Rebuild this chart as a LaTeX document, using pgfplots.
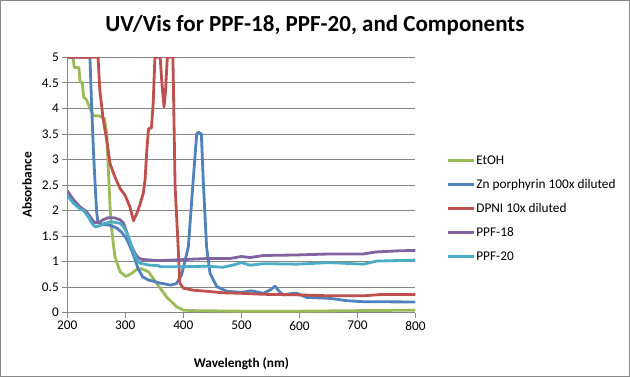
\documentclass[border=0pt]{standalone}
\usepackage{pgfplots}
\pgfplotsset{compat=1.18}
\usepackage{fontspec}
\setmainfont{Carlito}
\definecolor{cEtOH}{HTML}{9BBB59}
\definecolor{cZn}{HTML}{4F81BD}
\definecolor{cDPNI}{HTML}{C0504D}
\definecolor{cP18}{HTML}{8064A2}
\definecolor{cP20}{HTML}{4BACC6}
\definecolor{gridc}{HTML}{868686}
\begin{document}
\begin{tikzpicture}[x=1pt,y=1pt]
\begin{axis}[
  at={(67.3pt,64.3pt)}, anchor=south west,
  scale only axis, width=348.2pt, height=255.4pt,
  xmin=200, xmax=800, ymin=0, ymax=5,
  xtick={200,300,...,800}, ytick={0,0.5,...,5},
  axis x line*=bottom, axis y line*=left,
  axis line style={gridc, line width=0.8pt},
  ymajorgrids, grid style={gridc, line width=0.8pt},
  tick align=outside, major tick length=5pt,
  tick style={gridc, line width=0.8pt},
  /pgf/number format/assume math mode=true,
  ticklabel style={font=\fontsize{13.3}{16}\selectfont},
  yticklabel style={/pgf/number format/fixed},
  xlabel={Wavelength (nm)}, ylabel={Absorbance},
  label style={font=\bfseries\fontsize{13.3}{16}\selectfont},
  xlabel style={at={(axis description cs:0.5,-0.2)}, anchor=center},
  ylabel style={at={(axis description cs:-0.1157,0.5)}, anchor=center},
  legend style={at={(axis description cs:1.08,0.407)}, anchor=west, draw=none, fill=none,
    font=\fontsize{13.3}{16}\selectfont, row sep=9.5pt,
    nodes={inner sep=1pt, text height=9.5pt, text depth=3pt}},
  legend cell align=left,
  legend image code/.code={\draw[#1] (0pt,0pt) -- (26pt,0pt);},
  every axis plot/.append style={line width=2.8pt, line join=round},
]
\addplot[cEtOH] coordinates {
(200,5) (210,5) (212,4.8) (220,4.8) (222,4.52) (226,4.5) (228,4.22) (233,4.17) (239,4.0)
(245,3.86) (256,3.85) (264,3.8) (268,3.5) (270,2.95) (272,2.5) (274,2.0) (276.5,1.62)
(282,1.10) (291,0.80) (301,0.71) (311,0.77) (320,0.85) (328,0.86) (340,0.80) (354,0.575)
(371,0.31) (388,0.12) (400,0.05) (420,0.04) (500,0.03) (600,0.03) (700,0.04) (800,0.05)};
\addlegendentry{EtOH}
\addplot[cZn] coordinates {
(200,5) (239,5) (242,4.03) (245,3.18) (248,2.5) (250.7,1.95) (253,1.76) (262,1.73) (274,1.71)
(285,1.66) (294,1.57) (302,1.45) (308,1.30) (315,1.10) (322,0.86) (330,0.70) (340,0.64)
(360,0.58) (378,0.54) (388,0.57) (397,0.74) (408.6,1.29) (417,2.6) (423,3.5) (426,3.53)
(431,3.5) (434.5,2.53) (440,1.29) (446,0.77) (457.6,0.51) (474.8,0.42) (498,0.40) (509,0.41)
(517,0.43) (538,0.38) (550,0.45) (558,0.52) (565,0.42) (572,0.35) (590,0.38) (596,0.38)
(612,0.30) (653,0.28) (682,0.235) (710,0.215) (800,0.21)};
\addlegendentry{Zn porphyrin 100x diluted}
\addplot[cDPNI] coordinates {
(200,5) (253,5) (256,4.36) (262,3.77) (268,3.38) (273.6,2.92) (282,2.66) (291,2.43)
(299.5,2.30) (308,2.07) (314,1.80) (320,1.95) (325,2.11) (331,2.34) (334,2.6) (337,3.18)
(340,3.60) (345,3.62) (348,4.1) (351,5) (360,5) (363,4.5) (366.7,4.03) (369,4.3) (372.4,5)
(382,5) (385.7,2.5) (391,1.29) (394,0.575) (400,0.48) (417,0.44) (440,0.42) (468,0.39)
(498,0.38) (538,0.36) (595,0.35) (653,0.33) (710,0.33) (739,0.355) (800,0.355)};
\addlegendentry{DPNI 10x diluted}
\addplot[cP18] coordinates {
(200,2.39) (210,2.22) (222,2.07) (233,1.98) (243,1.82) (248,1.76) (255,1.77) (262,1.82)
(270,1.86) (280,1.86) (291,1.82) (297,1.75) (305,1.49) (310,1.32) (316.7,1.16) (322,1.08)
(328,1.045) (343,1.03) (360,1.02) (400,1.04) (440,1.06) (480,1.06) (500,1.10) (515,1.08)
(538,1.12) (595,1.13) (653,1.15) (710,1.15) (733,1.19) (768,1.21) (800,1.22)};
\addlegendentry{PPF-18}
\addplot[cP20] coordinates {
(200,2.30) (210,2.15) (222,2.03) (228,2.00) (236,1.88) (243,1.74) (248,1.68) (256,1.70)
(265,1.75) (276,1.78) (291,1.75) (297,1.68) (302,1.58) (308,1.40) (314,1.19) (320,1.05)
(325,0.97) (342,0.93) (358,0.92) (360,0.90) (400,0.90) (440,0.91) (468,0.89) (485,0.93)
(500,0.98) (515,0.93) (538,0.96) (595,0.95) (653,0.98) (710,0.95) (733,1.01) (800,1.03)};
\addlegendentry{PPF-20}
\end{axis}
\node[font=\bfseries\fontsize{23}{28}\selectfont] at (315,352) {UV/Vis for PPF-18, PPF-20, and Components};
\draw[gridc, line width=1pt] (0.5,0.5) rectangle (629.5,376.5);
\end{tikzpicture}
\end{document}
